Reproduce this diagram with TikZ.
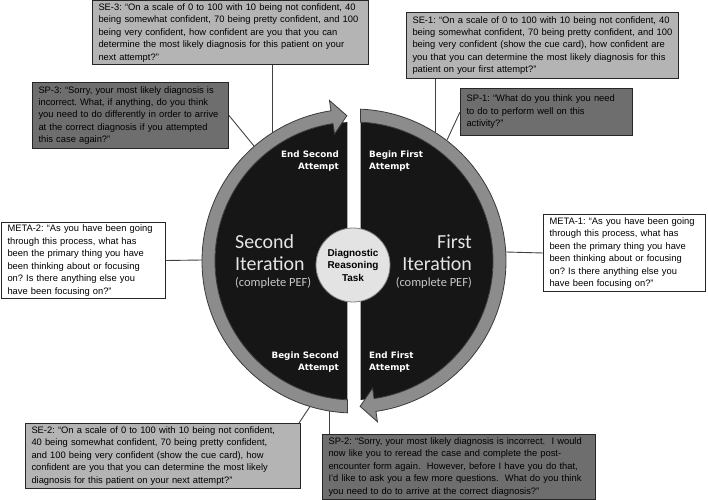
\documentclass[tikz,border=0pt]{standalone}
\usepackage{fontspec}
\usepackage{tikz}
\usetikzlibrary{positioning}
\newfontfamily\boxfont{Liberation Sans}
\newfontfamily\wheelfont{Carlito}
\newfontfamily\tagfont{DejaVu Sans}
\frenchspacing
\definecolor{sefill}{HTML}{B4B4B4}
\definecolor{spfill}{HTML}{6E6E6E}
\definecolor{boxline}{HTML}{262626}
\definecolor{linkgray}{HTML}{404040}
\definecolor{ringgray}{HTML}{8C8C8C}
\definecolor{ringline}{HTML}{3A3A3A}
\definecolor{wheelblack}{HTML}{161616}
\definecolor{hubfill}{HTML}{E3E3E3}
\tikzset{
  qbox/.style={draw=boxline, line width=1bp, anchor=north west, inner xsep=6bp, inner ysep=2bp,
    align=left, font=\boxfont\fontsize{9.4}{12.5}\selectfont},
  sebox/.style={qbox, fill=sefill},
  spbox/.style={qbox, fill=spfill},
  metabox/.style={qbox, fill=white},
  link/.style={draw=linkgray, line width=0.9bp},
  ringarrow/.style={fill=ringgray, draw=ringline, line width=0.8bp},
  phase/.style={font=\tagfont\bfseries\fontsize{8.8}{12.5}\selectfont, text=white, inner sep=0pt},
  iter/.style={font=\wheelfont\fontsize{20}{22}\selectfont, text=white!90!black, inner sep=0pt},
  pef/.style={font=\wheelfont\fontsize{12.5}{14}\selectfont, text=white!78!black, inner sep=0pt},
  hub/.style={circle, fill=hubfill, draw=gray, line width=0.8bp, minimum size=74bp, inner sep=0pt,
    align=center, font=\boxfont\bfseries\fontsize{10}{12.5}\selectfont}
}
\begin{document}
\begin{tikzpicture}[x=1bp, y=-1bp]
    \useasboundingbox (0,0) rectangle (708,500);

    % question boxes
    \node[sebox, text width=264bp, minimum height=64bp] (se3) at (92,0.5)
        {SE-3: “On a scale of 0 to 100 with 10 being not confident, 40\\
         being somewhat confident, 70 being pretty confident, and 100\\
         being very confident, how confident are you that you can\\
         determine the most likely diagnosis for this patient on your\\
         next attempt?”};
    \node[sebox, text width=260bp, minimum height=66bp] (se1) at (406,12)
        {SE-1: “On a scale of 0 to 100 with 10 being not confident, 40\\
         being somewhat confident, 70 being pretty confident, and 100\\
         being very confident (show the cue card), how confident are\\
         you that you can determine the most likely diagnosis for this\\
         patient on your first attempt?”};
    \node[spbox, text width=184bp, minimum height=66bp] (sp3) at (32,82)
        {SP-3: “Sorry, your most likely diagnosis is\\
         incorrect. What, if anything, do you think\\
         you need to do differently in order to arrive\\
         at the correct diagnosis if you attempted\\
         this case again?”};
    \node[spbox, text width=160bp, minimum height=47bp] (sp1) at (460,88)
        {SP-1: “What do you think you need\\
         to do to perform well on this\\
         activity?”};
    \node[metabox, text width=152bp, minimum height=76bp] (meta2) at (1,222)
        {META-2: “As you have been going\\
         through this process, what has\\
         been the primary thing you have\\
         been thinking about or focusing\\
         on? Is there anything else you\\
         have been focusing on?”};
    \node[metabox, text width=150bp, minimum height=77bp] (meta1) at (543,214)
        {META-1: “As you have been going\\
         through this process, what has\\
         been the primary thing you have\\
         been thinking about or focusing\\
         on? Is there anything else you\\
         have been focusing on?”};
    \node[sebox, text width=263bp, minimum height=65bp] (se2) at (25,423)
        {SE-2: “On a scale of 0 to 100 with 10 being not confident,\\
         40 being somewhat confident, 70 being pretty confident,\\
         and 100 being very confident (show the cue card), how\\
         confident are you that you can determine the most likely\\
         diagnosis for this patient on your next attempt?”};
    \node[spbox, text width=261bp, minimum height=65bp] (sp2) at (322,434)
        {SP-2: “Sorry, your most likely diagnosis is incorrect.~ I would\\
         now like you to reread the case and complete the post-\\
         encounter form again.~ However, before I have you do that,\\
         I’d like to ask you a few more questions.~ What do you think\\
         you need to do to arrive at the correct diagnosis?”};

    % links to the wheel
    \coordinate (ring-se3) at (272,133);
    \coordinate (ring-se1) at (435,132);
    \coordinate (ring-sp3) at (254,146);
    \coordinate (ring-sp1) at (447,140);
    \coordinate (ring-meta2) at (202,260);
    \coordinate (ring-meta1) at (506,252);
    \coordinate (ring-se2) at (311,405);
    \coordinate (ring-sp2) at (329,411);
    \draw[link] (se3.south -| ring-se3) -- (ring-se3);
    \draw[link] (se1.south -| ring-se1) -- (ring-se1);
    \draw[link] (sp3.east) -- (ring-sp3);
    \draw[link] (sp1.west) -- (ring-sp1);
    \draw[link] (meta2.east) -- (ring-meta2);
    \draw[link] (meta1.west) -- (ring-meta1);
    \draw[link] ([xshift=-2bp]se2.north east) -- (ring-se2);
    \draw[link] (sp2.north -| ring-sp2) -- (ring-sp2);

    % the wheel
    \begin{scope}[shift={(354,261)}]
        \fill[wheelblack] (92.7:139) arc[start angle=92.7, end angle=267.3, radius=139] -- cycle;
        \fill[wheelblack] (-87.3:139) arc[start angle=-87.3, end angle=87.3, radius=139] -- cycle;
        \filldraw[ringarrow] (92.45:152) arc[start angle=92.45, end angle=261.3, radius=152]
            -- (261.3:162.5) -- (267.2:145.5) -- (261.3:128.5) -- (261.3:139)
            arc[start angle=261.3, end angle=92.7, radius=139] -- cycle;
        \filldraw[ringarrow] (-87.55:152) arc[start angle=-87.55, end angle=81.7, radius=152]
            -- (81.7:162.5) -- (87.6:145.5) -- (81.7:128.5) -- (81.7:139)
            arc[start angle=81.7, end angle=-87.3, radius=139] -- cycle;
    \end{scope}

    \node[hub] (hub) at (353,265) {Diagnostic\\Reasoning\\Task};

    \node[phase, anchor=east, align=right] (endsecond) at (339,161) {End Second\\Attempt};
    \node[phase, anchor=west, align=left] (beginfirst) at (369,161) {Begin First\\Attempt};
    \node[phase, anchor=east, align=right] (beginsecond) at (339,362) {Begin Second\\Attempt};
    \node[phase, anchor=west, align=left] (endfirst) at (369,362) {End First\\Attempt};

    \node[iter, anchor=west, align=left] (second) at (235,253) {Second\\Iteration};
    \node[pef, anchor=west] (secondpef) at (235,283) {(complete PEF)};
    \node[iter, anchor=east, align=right] (first) at (472,253) {First\\Iteration};
    \node[pef, anchor=east] (firstpef) at (472,283) {(complete PEF)};
\end{tikzpicture}
\end{document}
